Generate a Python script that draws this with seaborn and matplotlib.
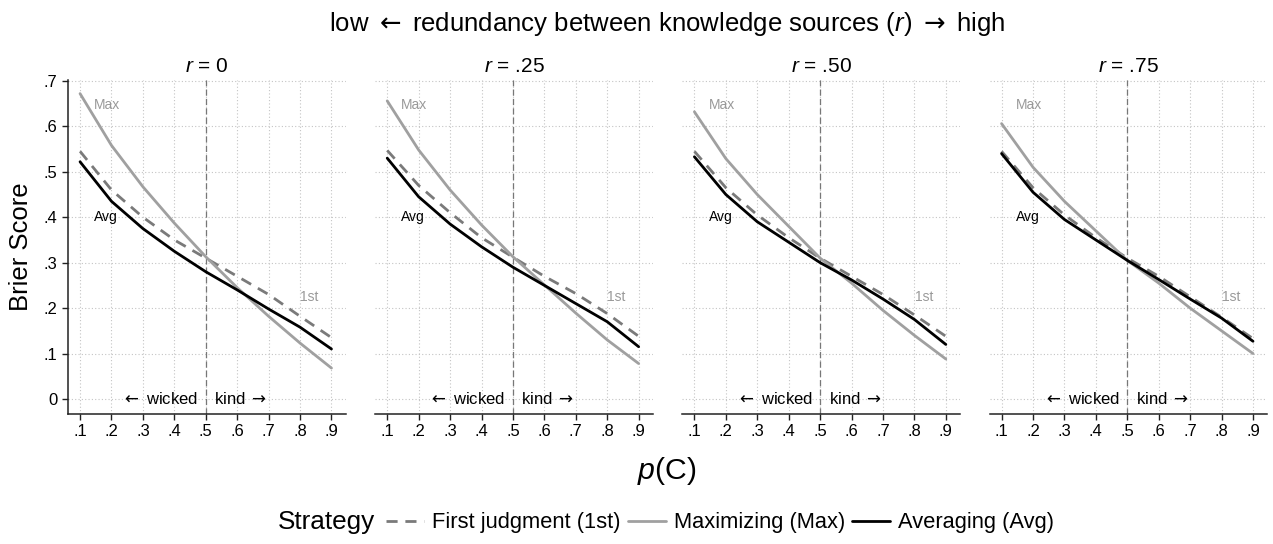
import numpy as np
import pandas as pd
import seaborn as sns
import matplotlib
matplotlib.use("Agg")
import matplotlib.pyplot as plt
from matplotlib.ticker import FuncFormatter
from matplotlib.offsetbox import HPacker

sns.set_theme(style="white")
plt.rcParams['font.family'] = ['Liberation Sans', 'DejaVu Sans']
plt.rcParams['mathtext.fontset'] = 'custom'
plt.rcParams['mathtext.rm'] = 'DejaVu Sans'
plt.rcParams['mathtext.it'] = 'Liberation Sans:italic'
plt.rcParams['mathtext.bf'] = 'Liberation Sans:bold'
for k in ['text.color', 'axes.labelcolor', 'xtick.color', 'ytick.color']:
    plt.rcParams[k] = 'black'

p_c = [0.1, 0.2, 0.3, 0.4, 0.5, 0.6, 0.7, 0.8, 0.9]
panels = ["0", ".25", ".50", ".75"]
strategies = ["First judgment (1st)", "Maximizing (Max)", "Averaging (Avg)"]
y_ticks = [0, 0.1, 0.2, 0.3, 0.4, 0.5, 0.6, 0.7]

first_r0 = [0.545, 0.460, 0.400, 0.350, 0.310, 0.270, 0.230, 0.182, 0.135]
max_r0 = [0.672, 0.558, 0.467, 0.387, 0.313, 0.245, 0.182, 0.123, 0.068]
avg_r0 = [0.522, 0.435, 0.375, 0.325, 0.280, 0.240, 0.198, 0.158, 0.110]

first_r25 = [0.547, 0.470, 0.410, 0.355, 0.312, 0.270, 0.232, 0.188, 0.138]
max_r25 = [0.656, 0.548, 0.460, 0.383, 0.313, 0.251, 0.189, 0.130, 0.078]
avg_r25 = [0.530, 0.445, 0.385, 0.335, 0.290, 0.250, 0.210, 0.170, 0.115]

first_r50 = [0.545, 0.465, 0.405, 0.355, 0.310, 0.270, 0.230, 0.185, 0.138]
max_r50 = [0.632, 0.529, 0.450, 0.380, 0.310, 0.255, 0.195, 0.140, 0.088]
avg_r50 = [0.533, 0.450, 0.390, 0.345, 0.300, 0.262, 0.220, 0.175, 0.120]

first_r75 = [0.545, 0.465, 0.405, 0.355, 0.310, 0.270, 0.225, 0.180, 0.133]
max_r75 = [0.606, 0.510, 0.435, 0.370, 0.305, 0.255, 0.200, 0.150, 0.100]
avg_r75 = [0.540, 0.455, 0.395, 0.350, 0.305, 0.263, 0.220, 0.178, 0.127]

series = {
    "0": (first_r0, max_r0, avg_r0),
    ".25": (first_r25, max_r25, avg_r25),
    ".50": (first_r50, max_r50, avg_r50),
    ".75": (first_r75, max_r75, avg_r75),
}

rows = []
for r in panels:
    for s, vals in zip(strategies, series[r]):
        for x, y in zip(p_c, vals):
            rows.append({"r": r, "Strategy": s, "p": x, "Brier": y})
df = pd.DataFrame(rows)

palette = {strategies[0]: "#7a7a7a", strategies[1]: "#a0a0a0", strategies[2]: "#000000"}
dashes = {strategies[0]: (4, 2.8), strategies[1]: "", strategies[2]: ""}

fig = plt.figure(figsize=(12.73, 5.44), dpi=100)
left0, bottom, width, height, step = 0.0535, 0.239, 0.218, 0.614, 0.2413

fmt = FuncFormatter(lambda v, pos: "0" if abs(v) < 1e-9 else ("%.1f" % v).lstrip("0"))

axes = []
for i, r in enumerate(panels):
    ax = fig.add_axes([left0 + i * step, bottom, width, height])
    axes.append(ax)
    sub = df[df["r"] == r]
    sns.lineplot(data=sub, x="p", y="Brier", hue="Strategy", style="Strategy",
                 palette=palette, dashes=dashes, hue_order=strategies,
                 style_order=strategies, ax=ax, legend=False, linewidth=2)
    ax.set_xlim(0.062, 0.945)
    ax.set_ylim(-0.033, 0.702)
    ax.set_xticks(p_c)
    ax.set_yticks(y_ticks)
    ax.xaxis.set_major_formatter(fmt)
    ax.yaxis.set_major_formatter(fmt)
    ax.grid(True, color="#c4c4c4", linestyle=(0, (1, 2)), linewidth=0.8)
    ax.set_axisbelow(True)
    for sp in ["top", "right"]:
        ax.spines[sp].set_visible(False)
    ax.spines["bottom"].set_color("#222222")
    ax.spines["bottom"].set_linewidth(1.1)
    if i == 0:
        ax.spines["left"].set_color("#222222")
        ax.spines["left"].set_linewidth(1.1)
        ax.tick_params(axis="y", left=True, length=4, width=1, colors="#222222",
                       labelsize=12, labelcolor="black")
    else:
        ax.spines["left"].set_visible(False)
        ax.tick_params(axis="y", left=False, labelleft=False)
    ax.tick_params(axis="x", bottom=True, length=4, width=1, colors="#222222",
                   labelsize=12, labelcolor="black")
    ax.set_xlabel("")
    ax.set_ylabel("")
    ax.axvline(0.5, color="#777777", linestyle=(0, (5, 2.5)), linewidth=0.9, zorder=1)
    ax.set_title(r"$r$ = " + r, fontsize=15, pad=6)
    ax.text(0.145, 0.648, "Max", color="#999999", fontsize=10, ha="left", va="center")
    ax.text(0.145, 0.40, "Avg", color="black", fontsize=10, ha="left", va="center")
    ax.text(0.83, 0.225, "1st", color="#999999", fontsize=10, ha="center", va="center")
    ax.text(0.476, 0.0, r"$\leftarrow$ wicked", fontsize=12, ha="right", va="center")
    ax.text(0.527, 0.0, r"kind $\rightarrow$", fontsize=12, ha="left", va="center")

axes[0].set_ylabel("Brier Score", fontsize=18.5, labelpad=8)

renderer = fig.canvas.get_renderer()


def fit_width(t, target_px):
    w = t.get_window_extent(renderer=renderer).width
    t.set_fontsize(t.get_fontsize() * target_px / w)


title = fig.text(0.524, 0.955, r"low $\leftarrow$ redundancy between knowledge sources ($r$) $\rightarrow$ high",
                 ha="center", va="center", fontsize=17)
fit_width(title, 676)
xlab = fig.text(0.524, 0.135, r"$p$(C)", ha="center", va="center", fontsize=20)
fit_width(xlab, 60)

handles = axes[0].get_lines()[:3]
leg = fig.legend(handles, strategies, loc="center", bbox_to_anchor=(0.523, 0.04),
                 ncol=3, frameon=False, fontsize=14.4, handlelength=1.9,
                 columnspacing=0.35, handletextpad=0.4, title="Strategy",
                 title_fontsize=18)
fit_width(leg.get_title(), 97)
lab0 = leg.get_texts()[0]
w0 = lab0.get_window_extent(renderer=renderer).width
new_fs = lab0.get_fontsize() * 188 / w0
for t in leg.get_texts():
    t.set_fontsize(new_fs)
title_box = leg._legend_title_box
handle_box = leg._legend_handle_box
leg._legend_box._children = [HPacker(children=[title_box, handle_box], pad=0, sep=8, align="center")]

fig.savefig("out.png", dpi=100)
